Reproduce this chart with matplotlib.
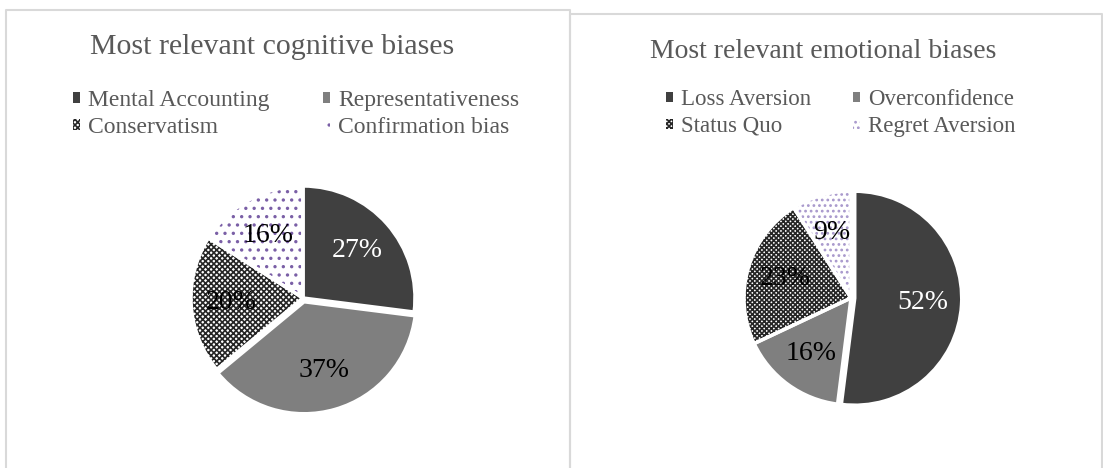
import matplotlib
matplotlib.use("Agg")
import matplotlib.pyplot as plt
from matplotlib.lines import Line2D

plt.rcParams['font.family'] = ['Liberation Serif', 'DejaVu Serif']
plt.rcParams['hatch.linewidth'] = 1.2

# data
cog_labels = ['Mental Accounting', 'Representativeness', 'Conservatism', 'Confirmation bias']
cog_values = [27, 37, 20, 16]
emo_labels = ['Loss Aversion', 'Overconfidence', 'Status Quo', 'Regret Aversion']
emo_values = [52, 16, 23, 9]

W, H = 1103, 468
fig = plt.figure(figsize=(W / 100, H / 100), dpi=100)

def px_axes(cx, cy, r):
    # axes box in figure fraction from pixel center / radius
    return fig.add_axes([(cx - r) / W, (H - cy - r) / H, 2 * r / W, 2 * r / H])

def draw_pie(ax, values, explode, styles, txt_colors):
    fills = [s[0] for s in styles]
    wedges, texts, autotexts = ax.pie(
        values, explode=explode, startangle=90, counterclock=False,
        colors=fills, autopct='%d%%', pctdistance=0.64,
        wedgeprops=dict(linewidth=0), textprops=dict(fontsize=20))
    for w, (fc, hatch, hc) in zip(wedges, styles):
        if hatch:
            w.set_hatch(hatch)
            w.set_edgecolor(hc)
    # white separators on top
    ax.pie(values, explode=explode, startangle=90, counterclock=False,
           colors=['none'] * len(values),
           wedgeprops=dict(linewidth=2.5, edgecolor='white'))
    for t, c in zip(autotexts, txt_colors):
        t.set_color(c)
        t.set_zorder(5)
    ax.set_xlim(-1.06, 1.06)
    ax.set_ylim(-1.06, 1.06)
    ax.set_aspect('equal')
    ax.axis('off')
    return wedges

ax1 = px_axes(303, 298, 112 * 1.06)
cog_styles = [('#404040', None, None), ('#7f7f7f', None, None),
              ('white', 'xxxxxx', '#262626'), ('white', '..', '#7a5fa6')]
w1 = draw_pie(ax1, cog_values, [0, 0.035, 0, 0], cog_styles,
              ['white', 'black', 'black', 'black'])

ax2 = px_axes(851, 298, 107 * 1.06)
emo_styles = [('#404040', None, None), ('#7f7f7f', None, None),
              ('white', 'xxxxxxx', '#262626'), ('white', '...', '#a898cc')]
w2 = draw_pie(ax2, emo_values, [0.035, 0, 0, 0], emo_styles,
              ['white', 'black', 'black', 'black'])

grey = '#595959'
fig.text(272 / W, 1 - 47 / H, 'Most relevant cognitive biases', ha='center', va='center',
         fontsize=21.5, color=grey)
fig.text(823 / W, 1 - 51 / H, 'Most relevant emotional biases', ha='center', va='center',
         fontsize=20, color=grey)

# legends filled row by row, like the original
order = [0, 2, 1, 3]
leg_kw = dict(ncol=2, frameon=False, labelcolor=grey, borderpad=0, borderaxespad=0,
              handlelength=0.3, handleheight=0.3, handletextpad=0.35,
              labelspacing=0.25, loc='center left')
fig.legend([w1[i] for i in order], [cog_labels[i] for i in order],
           bbox_to_anchor=(73 / W, 1 - 114 / H), fontsize=17, columnspacing=2.25, **leg_kw)
fig.legend([w2[i] for i in order], [emo_labels[i] for i in order],
           bbox_to_anchor=(666 / W, 1 - 113 / H), fontsize=16.5, columnspacing=1.85, **leg_kw)

# chart area borders
bc = '#d9d9d9'
for xs, ys in [([6, 6, 570, 570], [H + 5, 10, 10, H + 5]),
               ([570, 570, 1102, 1102], [H + 5, 14, 14, H + 5])]:
    fig.add_artist(Line2D([x / W for x in xs], [1 - y / H for y in ys],
                          color=bc, linewidth=1.5, transform=fig.transFigure))

fig.savefig('out.png', dpi=100)
